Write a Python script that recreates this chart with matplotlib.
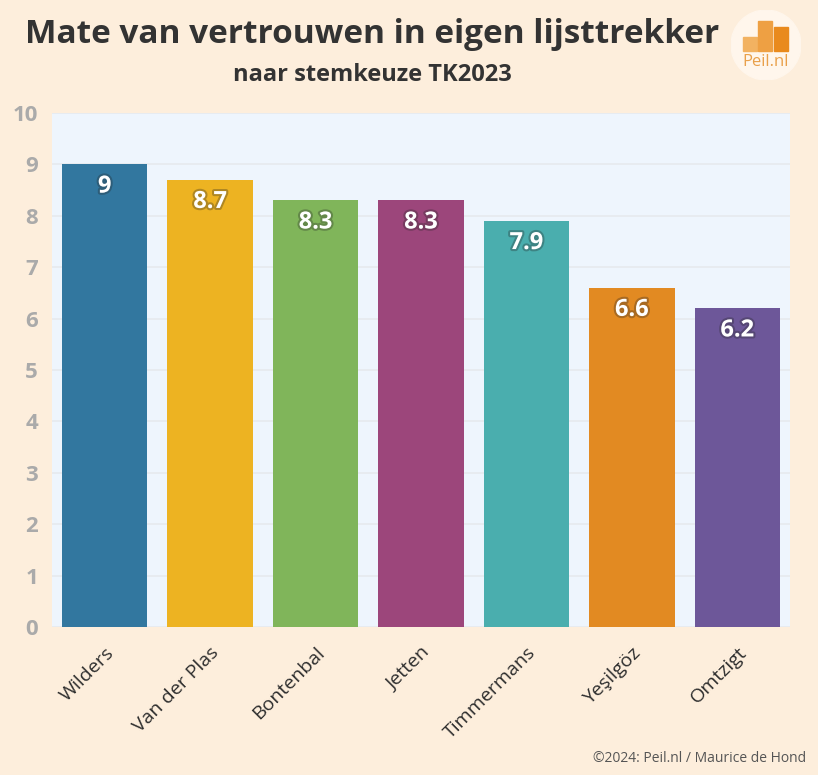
import matplotlib
matplotlib.use("Agg")
import matplotlib.pyplot as plt
import matplotlib.patheffects as pe
from matplotlib.patches import Circle, Rectangle

# data
namen = ["Wilders", "Van der Plas", "Bontenbal", "Jetten", "Timmermans", "Yeşilgöz", "Omtzigt"]
scores = [9, 8.7, 8.3, 8.3, 7.9, 6.6, 6.2]
labels = ["9", "8.7", "8.3", "8.3", "7.9", "6.6", "6.2"]
kleuren = ["#32779f", "#edb322", "#80b55a", "#9c467b", "#4aaeae", "#e28a22", "#6d5799"]

plt.rcParams['font.family'] = ['Open Sans', 'DejaVu Sans']

bg = "#fdeedc"
fig = plt.figure(figsize=(8.18, 7.75), dpi=100, facecolor=bg)
ax = fig.add_axes([52/818, 1 - 627/775, 738/818, 514/775])
ax.set_facecolor("#eef5fd")

x = range(len(namen))
ax.bar(x, scores, width=0.81, color=kleuren, zorder=3)
for i, (s, l) in enumerate(zip(scores, labels)):
    t = ax.text(i, s - 0.43, l, ha="center", va="center", color="white",
                fontsize=17, fontweight="bold", zorder=4)
    t.set_path_effects([pe.withStroke(linewidth=3, foreground="#222222", alpha=0.3)])

ax.set_xlim(-0.5, len(namen) - 0.5)
ax.set_ylim(0, 10)
ax.set_yticks(range(0, 11))
ax.yaxis.grid(True, color="#e6e9ee", linewidth=1.2, zorder=0)
ax.set_axisbelow(True)
for sp in ax.spines.values():
    sp.set_visible(False)
ax.tick_params(axis="y", length=0, pad=10, labelsize=16, labelcolor="#aaaaaa")
for lab in ax.get_yticklabels():
    lab.set_fontweight("bold")
ax.set_xticks(list(x))
ax.set_xticklabels(namen, rotation=45, ha="right", rotation_mode="anchor",
                   fontsize=14, color="#2e2e2e")
ax.tick_params(axis="x", length=0, pad=12)

fig.text(0.455, 0.955, "Mate van vertrouwen in eigen lijsttrekker", ha="center", va="center",
         fontsize=24, fontweight="bold", color="#333333")
fig.text(0.455, 0.903, "naar stemkeuze TK2023", ha="center", va="center",
         fontsize=17, fontweight="bold", color="#333333")
fig.text(0.985, 0.012, "©2024: Peil.nl / Maurice de Hond", ha="right", va="bottom",
         fontsize=10, color="#555555")

# logo
lax = fig.add_axes([731/818, 1 - 80/775, 70/818, 70/775])
lax.set_xlim(0, 1)
lax.set_ylim(0, 1)
lax.set_aspect("equal")
lax.axis("off")
lax.add_patch(Circle((0.5, 0.5), 0.5, color="#fff6ec"))
lax.add_patch(Rectangle((0.17, 0.42), 0.2, 0.2, color="#f2b261"))
lax.add_patch(Rectangle((0.39, 0.42), 0.2, 0.42, color="#eea043"))
lax.add_patch(Rectangle((0.61, 0.42), 0.2, 0.34, color="#e98a1d"))
lax.text(0.5, 0.26, "Peil.nl", ha="center", va="center", fontsize=12, color="#e9a04a")

fig.savefig("out.png", dpi=100, facecolor=bg)
